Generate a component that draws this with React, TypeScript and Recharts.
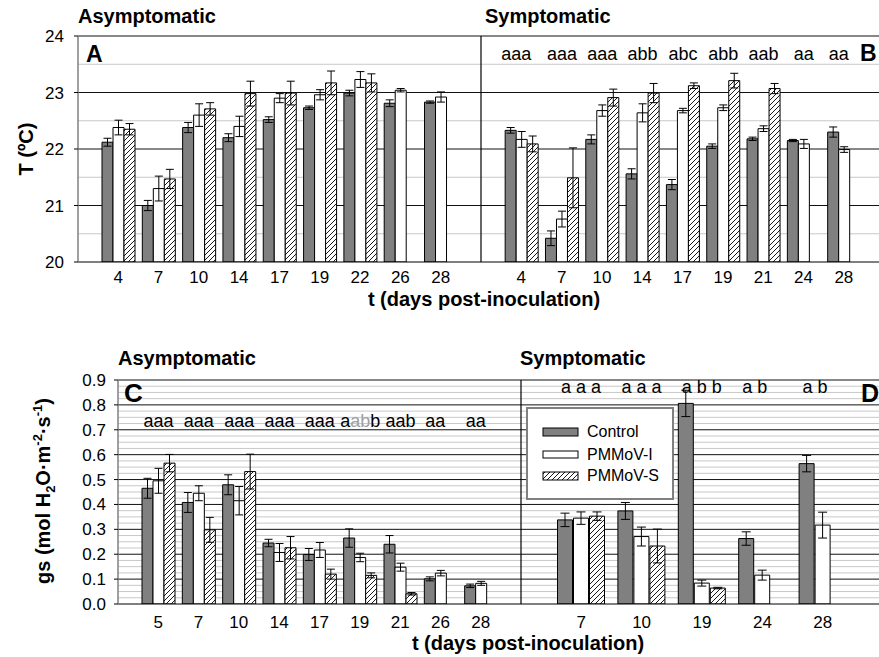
import React from 'react';
import {
  BarChart,
  Bar,
  XAxis,
  YAxis,
  CartesianGrid,
  ErrorBar,
  ReferenceLine,
  LabelList,
  Legend,
} from 'recharts';

const FONT = '"Liberation Sans", Arial, Helvetica, sans-serif';

// ---------- Panel A : leaf temperature, asymptomatic ----------
const daysA = ['4', '7', '10', '14', '17', '19', '22', '26', '28'];
const ctrlA = [22.12, 21.0, 22.38, 22.2, 22.52, 22.73, 22.99, 22.81, 22.83];
const ctrlAErr = [0.07, 0.09, 0.09, 0.07, 0.05, 0.03, 0.05, 0.06, 0.02];
const pmmoviA = [22.38, 21.3, 22.6, 22.4, 22.9, 22.96, 23.23, 23.04, 22.92];
const pmmoviAErr = [0.13, 0.22, 0.2, 0.18, 0.08, 0.09, 0.14, 0.03, 0.09];
const pmmovsA = [22.35, 21.47, 22.71, 22.98, 22.99, 23.17, 23.17, null, null];
const pmmovsAErr = [0.1, 0.17, 0.11, 0.22, 0.21, 0.21, 0.16, null, null];

// ---------- Panel B : leaf temperature, symptomatic ----------
const daysB = ['4', '7', '10', '14', '17', '19', '21', '24', '28'];
const ctrlB = [22.33, 20.42, 22.17, 21.56, 21.37, 22.05, 22.18, 22.15, 22.3];
const ctrlBErr = [0.05, 0.13, 0.08, 0.09, 0.09, 0.04, 0.03, 0.02, 0.09];
const pmmoviB = [22.17, 20.76, 22.68, 22.64, 22.68, 22.73, 22.36, 22.09, 21.99];
const pmmoviBErr = [0.14, 0.14, 0.1, 0.16, 0.04, 0.05, 0.05, 0.08, 0.05];
const pmmovsB = [22.09, 21.49, 22.91, 22.99, 23.12, 23.21, 23.07, null, null];
const pmmovsBErr = [0.14, 0.53, 0.15, 0.17, 0.05, 0.13, 0.09, null, null];
const sigB = ['aaa', 'aaa', 'aaa', 'abb', 'abc', 'abb', 'aab', 'aa', 'aa'];

// ---------- Panel C : stomatal conductance, asymptomatic ----------
const daysC = ['5', '7', '10', '14', '17', '19', '21', '26', '28'];
const ctrlC = [0.465, 0.408, 0.479, 0.245, 0.199, 0.265, 0.24, 0.101, 0.073];
const ctrlCErr = [0.04, 0.04, 0.04, 0.015, 0.024, 0.037, 0.035, 0.008, 0.007];
const pmmoviC = [0.495, 0.445, 0.415, 0.207, 0.217, 0.187, 0.148, 0.124, 0.083];
const pmmoviCErr = [0.05, 0.03, 0.057, 0.036, 0.03, 0.017, 0.016, 0.011, 0.008];
const pmmovsC = [0.566, 0.298, 0.532, 0.226, 0.12, 0.115, 0.041, null, null];
const pmmovsCErr = [0.035, 0.05, 0.07, 0.045, 0.02, 0.01, 0.005, null, null];
const sigC = ['aaa', 'aaa', 'aaa', 'aaa', 'aaa', 'a(ab)b', 'aab', 'aa', 'aa'];

// ---------- Panel D : stomatal conductance, symptomatic ----------
const daysD = ['7', '10', '19', '24', '28'];
const ctrlD = [0.338, 0.374, 0.806, 0.263, 0.564];
const ctrlDErr = [0.027, 0.034, 0.053, 0.027, 0.033];
const pmmoviD = [0.345, 0.271, 0.084, 0.116, 0.317];
const pmmoviDErr = [0.025, 0.038, 0.012, 0.02, 0.052];
const pmmovsD = [0.353, 0.233, 0.064, null, null];
const pmmovsDErr = [0.017, 0.068, 0.003, null, null];
const sigD = ['a a a', 'a a a', 'a b b', 'a b', 'a b'];

const seriesNames = ['Control', 'PMMoV-I', 'PMMoV-S'];

type Row = {
  key: string;
  c?: number | null;
  cE?: number | null;
  i?: number | null;
  iE?: number | null;
  s?: number | null;
  sE?: number | null;
  sig?: string | null;
};

const buildRows = (
  prefix: string,
  days: string[],
  c: (number | null)[],
  cE: (number | null)[],
  i: (number | null)[],
  iE: (number | null)[],
  s: (number | null)[],
  sE: (number | null)[],
  sig: (string | null)[] | null
): Row[] =>
  days.map((d, k) => ({
    key: prefix + d,
    c: c[k],
    cE: cE[k],
    i: i[k],
    iE: iE[k],
    s: s[k],
    sE: sE[k],
    sig: sig ? sig[k] : null,
  }));

const topRows: Row[] = [
  ...buildRows('A', daysA, ctrlA, ctrlAErr, pmmoviA, pmmoviAErr, pmmovsA, pmmovsAErr, null),
  { key: 'gap' },
  ...buildRows('B', daysB, ctrlB, ctrlBErr, pmmoviB, pmmoviBErr, pmmovsB, pmmovsBErr, sigB),
];
const rowsC = buildRows('C', daysC, ctrlC, ctrlCErr, pmmoviC, pmmoviCErr, pmmovsC, pmmovsCErr, sigC);
const rowsD = buildRows('D', daysD, ctrlD, ctrlDErr, pmmoviD, pmmoviDErr, pmmovsD, pmmovsDErr, sigD);

const tTicks = [20, 21, 22, 23, 24];
const tMajor = [21, 22, 23, 24];
const tMinor = [20.5, 21.5, 22.5, 23.5];
const gTicks = [0, 0.1, 0.2, 0.3, 0.4, 0.5, 0.6, 0.7, 0.8, 0.9];
const gMajor = [0.1, 0.2, 0.3, 0.4, 0.5, 0.6, 0.7, 0.8, 0.9];
const gMinor: number[] = [];
for (let k = 1; k < 36; k++) if (k % 4 !== 0) gMinor.push(k * 0.025);

const CTRL_FILL = '#808080';
const stripKey = (v: string) => (v === 'gap' ? '' : String(v).slice(1));

const tickStyle = { fill: '#000', fontSize: 17, fontFamily: FONT };

const sigLabel = (rows: Row[], baseY: number) => (props: any) => {
  const { x, width, index, value } = props;
  if (!value) return null;
  const row = rows[index];
  const bx = Number(x);
  const bw = Number(width);
  const cx = row && row.s == null ? bx : bx + bw / 2;
  const parts = String(value).split(/(\([^)]*\))/).filter(Boolean);
  return (
    <text x={cx} y={baseY} textAnchor="middle" fontSize={18} fontFamily={FONT} fill="#000">
      {parts.map((p, k) =>
        p.startsWith('(') ? (
          <tspan key={k} fill="#a0a0a0">
            {p.slice(1, -1)}
          </tspan>
        ) : (
          <tspan key={k}>{p}</tspan>
        )
      )}
    </text>
  );
};

const Hatch = ({ id }: { id: string }) => (
  <pattern id={id} patternUnits="userSpaceOnUse" width={5} height={5}>
    <rect width={5} height={5} fill="#fff" />
    <path d="M0,5 L5,0 M-1,1 L1,-1 M4,6 L6,4" stroke="#000" strokeWidth={0.9} />
  </pattern>
);

const LegendBox = () => (
  <div
    style={{
      width: 144,
      height: 89,
      border: '2px solid #808080',
      background: '#fff',
      fontFamily: FONT,
      fontSize: 16,
      color: '#000',
      boxSizing: 'content-box',
      position: 'relative',
    }}
  >
    <svg width={144} height={89} style={{ position: 'absolute', left: 0, top: 0 }}>
      <defs>
        <Hatch id="hatchLeg" />
      </defs>
      {seriesNames.map((n, k) => {
        const y = [19, 42, 63][k];
        const fill = k === 0 ? CTRL_FILL : k === 1 ? '#fff' : 'url(#hatchLeg)';
        return (
          <g key={n}>
            <rect x={15} y={y} width={35} height={k === 1 ? 7 : 8} fill={fill} stroke="#000" strokeWidth={1} />
            <text x={59} y={y + 9} fontSize={16} fontFamily={FONT} fill="#000">
              {n}
            </text>
          </g>
        );
      })}
    </svg>
  </div>
);

const errProps = { stroke: '#000', strokeWidth: 1 };

export default function App() {
  return (
    <div
      style={{
        position: 'fixed',
        left: 0,
        top: 0,
        width: 879,
        height: 657,
        overflow: 'hidden',
        background: '#fff',
        fontFamily: FONT,
      }}
    >
      {/* Top chart: panels A and B share one plot */}
      <div style={{ position: 'absolute', left: 0, top: 0 }}>
        <BarChart
          width={900}
          height={320}
          data={topRows}
          margin={{ top: 36, right: 16, bottom: 28, left: 0 }}
          barCategoryGap={4}
          barGap={0}
        >
          <defs>
            <Hatch id="hatchTop" />
          </defs>
          <CartesianGrid horizontalValues={tMinor} vertical={false} stroke="#c8c8c8" />
          <CartesianGrid horizontalValues={tMajor} vertical={false} stroke="#111" />
          <XAxis
            dataKey="key"
            tickFormatter={stripKey}
            interval={0}
            padding={{ left: 20, right: 20 }}
            tickLine={false}
            axisLine={{ stroke: '#000' }}
            tick={tickStyle}
            height={30}
            tickMargin={3}
          />
          <YAxis
            domain={[20, 24]}
            ticks={tTicks}
            interval={0}
            allowDataOverflow
            width={78}
            axisLine={{ stroke: '#808080', strokeWidth: 1.5 }}
            tickLine={{ stroke: '#000' }}
            tickSize={4}
            tickMargin={10}
            tick={tickStyle}
          />
          <ReferenceLine x="gap" stroke="#000" strokeWidth={1.2} />
          <Bar dataKey="c" name="Control" fill={CTRL_FILL} stroke="#000" strokeWidth={1} isAnimationActive={false}>
            <ErrorBar dataKey="cE" width={4} {...errProps} />
          </Bar>
          <Bar dataKey="i" name="PMMoV-I" fill="#fff" stroke="#000" strokeWidth={1} isAnimationActive={false}>
            <ErrorBar dataKey="iE" width={4} {...errProps} />
            <LabelList dataKey="sig" content={sigLabel(topRows, 60)} />
          </Bar>
          <Bar dataKey="s" name="PMMoV-S" fill="url(#hatchTop)" stroke="#000" strokeWidth={1} isAnimationActive={false}>
            <ErrorBar dataKey="sE" width={4} {...errProps} />
          </Bar>
        </BarChart>
      </div>

      {/* Panel C */}
      <div style={{ position: 'absolute', left: 0, top: 330 }}>
        <BarChart
          width={522}
          height={320}
          data={rowsC}
          margin={{ top: 50, right: 1, bottom: 16, left: 0 }}
          barCategoryGap={4}
          barGap={0}
        >
          <defs>
            <Hatch id="hatchC" />
          </defs>
          <CartesianGrid horizontalValues={gMinor} vertical={false} stroke="#c8c8c8" />
          <CartesianGrid horizontalValues={gMajor} vertical={false} stroke="#111" />
          <XAxis
            dataKey="key"
            tickFormatter={stripKey}
            interval={0}
            padding={{ left: 20, right: 20 }}
            tickLine={false}
            axisLine={{ stroke: '#000' }}
            tick={tickStyle}
            height={30}
            tickMargin={6}
          />
          <YAxis
            domain={[0, 0.9]}
            ticks={gTicks}
            interval={0}
            allowDataOverflow
            width={118}
            axisLine={{ stroke: '#808080', strokeWidth: 1.5 }}
            tickLine={{ stroke: '#000' }}
            tickSize={4}
            tickMargin={8}
            tick={tickStyle}
            tickFormatter={(v: number) => v.toFixed(1)}
          />
          <Bar dataKey="c" name="Control" fill={CTRL_FILL} stroke="#000" strokeWidth={1} isAnimationActive={false}>
            <ErrorBar dataKey="cE" width={4} {...errProps} />
          </Bar>
          <Bar dataKey="i" name="PMMoV-I" fill="#fff" stroke="#000" strokeWidth={1} isAnimationActive={false}>
            <ErrorBar dataKey="iE" width={4} {...errProps} />
            <LabelList dataKey="sig" content={sigLabel(rowsC, 97)} />
          </Bar>
          <Bar dataKey="s" name="PMMoV-S" fill="url(#hatchC)" stroke="#000" strokeWidth={1} isAnimationActive={false}>
            <ErrorBar dataKey="sE" width={4} {...errProps} />
          </Bar>
        </BarChart>
      </div>

      {/* Panel D */}
      <div style={{ position: 'absolute', left: 519, top: 330 }}>
        <BarChart
          width={402}
          height={320}
          data={rowsD}
          margin={{ top: 50, right: 38, bottom: 16, left: 0 }}
          barCategoryGap={6.5}
          barGap={1}
        >
          <defs>
            <Hatch id="hatchD" />
          </defs>
          <CartesianGrid horizontalValues={gMinor} vertical={false} stroke="#c8c8c8" />
          <CartesianGrid horizontalValues={gMajor} vertical={false} stroke="#111" />
          <XAxis
            dataKey="key"
            tickFormatter={stripKey}
            interval={0}
            padding={{ left: 30, right: 30 }}
            tickLine={false}
            axisLine={{ stroke: '#000' }}
            tick={tickStyle}
            height={30}
            tickMargin={6}
          />
          <YAxis
            domain={[0, 0.9]}
            ticks={gTicks}
            interval={0}
            allowDataOverflow
            width={2}
            axisLine={{ stroke: '#000', strokeWidth: 1.2 }}
            tickLine={false}
            tick={tickStyle}
            tickFormatter={() => ''}
          />
          <Legend
            layout="vertical"
            align="center"
            verticalAlign="middle"
            wrapperStyle={{ left: 7, top: 77, width: 148, height: 93 }}
            content={() => <LegendBox />}
          />
          <Bar dataKey="c" name="Control" fill={CTRL_FILL} stroke="#000" strokeWidth={1} isAnimationActive={false}>
            <ErrorBar dataKey="cE" width={4.5} {...errProps} />
          </Bar>
          <Bar dataKey="i" name="PMMoV-I" fill="#fff" stroke="#000" strokeWidth={1} isAnimationActive={false}>
            <ErrorBar dataKey="iE" width={4.5} {...errProps} />
            <LabelList dataKey="sig" content={sigLabel(rowsD, 63)} />
          </Bar>
          <Bar dataKey="s" name="PMMoV-S" fill="url(#hatchD)" stroke="#000" strokeWidth={1} isAnimationActive={false}>
            <ErrorBar dataKey="sE" width={4.5} {...errProps} />
          </Bar>
        </BarChart>
      </div>

      {/* Titles and panel letters */}
      <svg
        width={879}
        height={657}
        style={{ position: 'absolute', left: 0, top: 0, pointerEvents: 'none' }}
        fontFamily={FONT}
      >
        <text x={78} y={23} fontSize={20} fontWeight="bold">Asymptomatic</text>
        <text x={485} y={23} fontSize={20} fontWeight="bold">Symptomatic</text>
        <text x={118} y={365} fontSize={20} fontWeight="bold">Asymptomatic</text>
        <text x={520} y={365} fontSize={20} fontWeight="bold">Symptomatic</text>

        <text x={86} y={62} fontSize={23} fontWeight="bold">A</text>
        <text x={860} y={61} fontSize={23} fontWeight="bold">B</text>
        <text x={124} y={402} fontSize={26} fontWeight="bold">C</text>
        <text x={861} y={402} fontSize={25} fontWeight="bold">D</text>

        <text x={484} y={306} fontSize={20} fontWeight="bold" textAnchor="middle">
          t (days post-inoculation)
        </text>
        <text x={528} y={650} fontSize={20} fontWeight="bold" textAnchor="middle">
          t (days post-inoculation)
        </text>

        <text transform="translate(33,149) rotate(-90)" fontSize={20} fontWeight="bold" textAnchor="middle">
          T (ºC)
        </text>
        <text transform="translate(50,491) rotate(-90)" fontSize={20} fontWeight="bold" textAnchor="middle">
          <tspan>gs (mol H</tspan>
          <tspan fontSize={13} dy={5}>2</tspan>
          <tspan dy={-5}>O·m</tspan>
          <tspan fontSize={13} dy={-8}>-2</tspan>
          <tspan dy={8}>·s</tspan>
          <tspan fontSize={13} dy={-8}>-1</tspan>
          <tspan dy={8}>)</tspan>
        </text>
      </svg>
    </div>
  );
}
